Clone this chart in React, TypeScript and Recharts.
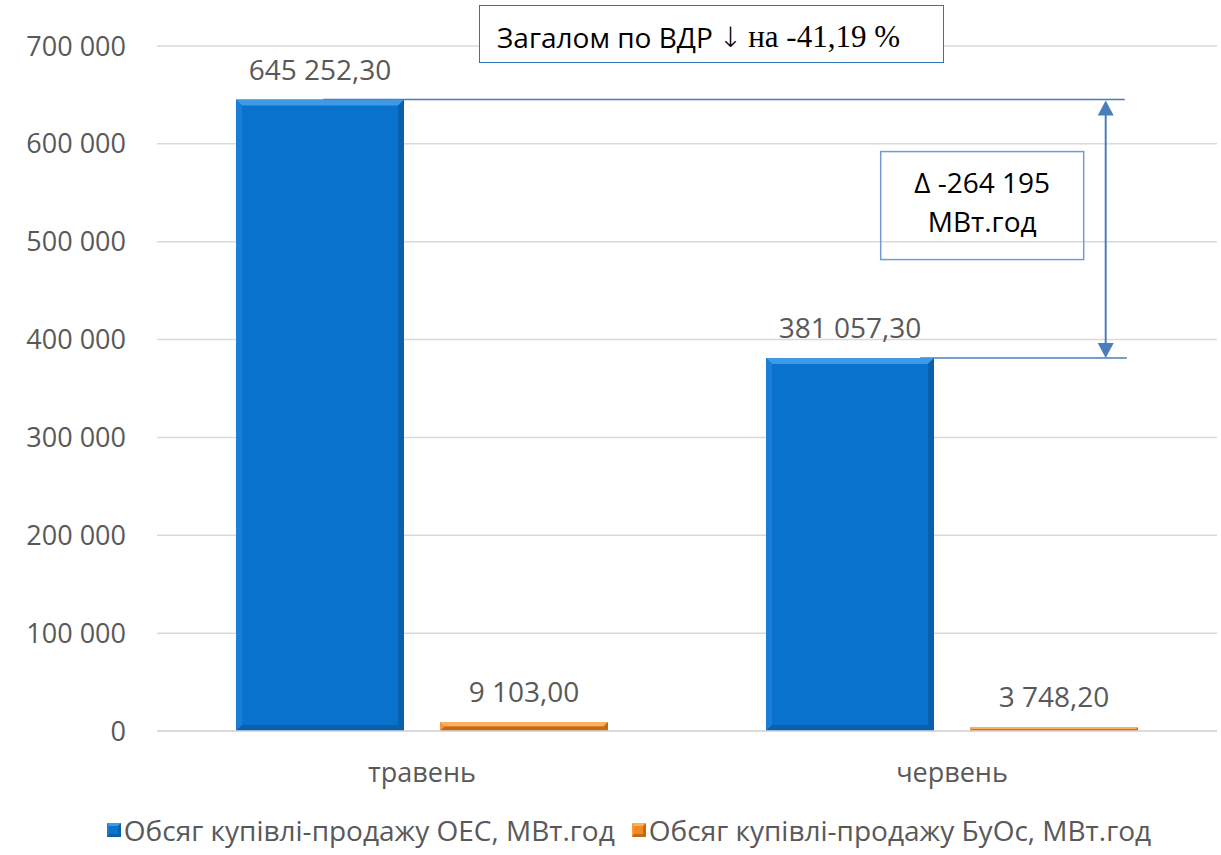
import React from 'react';
import {
  BarChart,
  Bar,
  XAxis,
  YAxis,
  CartesianGrid,
  Legend,
  LabelList,
  ReferenceArea
} from 'recharts';

// months (categories)
const months = ['травень', 'червень'];
// volumes, MWh
const oesVolume = [645252.3, 381057.3];
const buosVolume = [9103.0, 3748.2];
const yTicks = [0, 100000, 200000, 300000, 400000, 500000, 600000, 700000];

const seriesNames = [
  'Обсяг купівлі-продажу ОЕС, МВт.год',
  'Обсяг купівлі-продажу БуОс, МВт.год'
];

const FONT = '"Open Sans", "Noto Sans", sans-serif';
const GREY = '#595959';
const LINE_BLUE = '#4a7ebb';

const palette = {
  blue: { fill: '#0872cc', light: '#3f9ae6', side: '#1a7ed6', dark: '#0b60ad' },
  orange: { fill: '#f08a24', light: '#f9b25c', side: '#f39a3a', dark: '#c46a14' }
};

const chartData = months.map((m, i) => ({
  month: m,
  oes: oesVolume[i],
  buos: buosVolume[i]
}));

const groupThousands = (s: string) => s.replace(/\B(?=(\d{3})+(?!\d))/g, ' ');
const fmtTick = (v: number) => groupThousands(String(Math.round(v)));
const fmtValue = (v: number) => {
  const [int, dec] = v.toFixed(2).split('.');
  return `${groupThousands(int)},${dec}`;
};

const deltaOes = oesVolume[0] - oesVolume[1];
const totalMay = oesVolume[0] + buosVolume[0];
const totalJune = oesVolume[1] + buosVolume[1];
const pctChange = ((totalJune - totalMay) / totalMay) * 100;

const bevelShape = (c: typeof palette.blue) => (props: any) => {
  const { x, y, width, height } = props;
  if (!height || height <= 0) return <g />;
  const b = Math.min(6, height / 2, width / 2);
  const r = x + width;
  const btm = y + height;
  return (
    <g>
      <rect x={x} y={y} width={width} height={height} fill={c.fill} />
      <polygon points={`${x},${y} ${r},${y} ${r - b},${y + b} ${x + b},${y + b}`} fill={c.light} />
      <polygon points={`${x},${y} ${x + b},${y + b} ${x + b},${btm - b} ${x},${btm}`} fill={c.side} />
      <polygon points={`${r},${y} ${r},${btm} ${r - b},${btm - b} ${r - b},${y + b}`} fill={c.dark} />
      <polygon points={`${x},${btm} ${r},${btm} ${r - b},${btm - b} ${x + b},${btm - b}`} fill={c.dark} />
    </g>
  );
};

// draws the guide lines, double arrow and delta box between the two OES values
const DeltaAnnotation = (props: any) => {
  const { x, y, width, height } = props;
  const top = y;
  const bottom = y + height;
  const ax = x + width * 0.895;
  const head = 15;
  const half = 8;
  const boxW = 203;
  const boxH = 108;
  const bx = ax - 225;
  const by = top + 52;
  return (
    <g>
      <line x1={x + width * 0.157} y1={top} x2={x + width * 0.913} y2={top} stroke={LINE_BLUE} strokeWidth={1.5} />
      <line x1={x + width * 0.72} y1={bottom} x2={x + width * 0.915} y2={bottom} stroke={LINE_BLUE} strokeWidth={1.5} />
      <line x1={ax} y1={top + head} x2={ax} y2={bottom - head} stroke={LINE_BLUE} strokeWidth={2} />
      <polygon points={`${ax},${top + 1} ${ax - half},${top + head + 1} ${ax + half},${top + head + 1}`} fill={LINE_BLUE} />
      <polygon points={`${ax},${bottom} ${ax - half},${bottom - head} ${ax + half},${bottom - head}`} fill={LINE_BLUE} />
      <rect x={bx} y={by} width={boxW} height={boxH} fill="none" stroke="#6f9bd8" strokeWidth={1.5} />
      <text x={bx + boxW / 2} y={by + 41} textAnchor="middle" fontFamily={FONT} fontSize={28} fill="#000">
        {`Δ -${groupThousands(String(Math.round(deltaOes)))}`}
      </text>
      <text x={bx + boxW / 2} y={by + 80} textAnchor="middle" fontFamily={FONT} fontSize={28} fill="#000">
        МВт.год
      </text>
    </g>
  );
};

const LegendContent = () => {
  const icons = [palette.blue, palette.orange];
  return (
    <div style={{ display: 'flex', justifyContent: 'center', alignItems: 'center', height: 30, paddingLeft: 37, fontFamily: FONT, fontSize: 28, color: GREY, whiteSpace: 'nowrap' }}>
      {seriesNames.map((name, i) => (
        <div key={name} style={{ display: 'flex', alignItems: 'center', marginRight: i === 0 ? 17 : 0 }}>
          <span
            style={{
              display: 'inline-block',
              width: 14,
              height: 14,
              marginRight: 3,
              boxSizing: 'border-box',
              borderTop: `3px solid ${icons[i].light}`,
              borderLeft: `2px solid ${icons[i].side}`,
              borderRight: `3px solid ${icons[i].dark}`,
              borderBottom: `3px solid ${icons[i].dark}`,
              background: icons[i].fill
            }}
          />
          <span>{name}</span>
        </div>
      ))}
    </div>
  );
};

export default function App() {
  return (
    <div style={{ position: 'absolute', left: 0, top: 0, width: 1221, height: 855, background: '#fff' }}>
      <BarChart
        width={1221}
        height={855}
        data={chartData}
        margin={{ top: 46, right: 4, left: 0, bottom: 10 }}
        barCategoryGap={79}
        barGap={36}
      >
        <CartesianGrid vertical={false} stroke="#d9d9d9" strokeWidth={1.5} />
        <XAxis
          dataKey="month"
          height={84}
          tickLine={false}
          axisLine={{ stroke: '#d9d9d9', strokeWidth: 1.5 }}
          tickMargin={26}
          tick={{ fontFamily: FONT, fontSize: 27, fill: GREY }}
        />
        <YAxis
          width={157}
          domain={[0, 700000]}
          ticks={yTicks}
          tickFormatter={fmtTick}
          axisLine={false}
          tickLine={false}
          tickMargin={25}
          tick={{ fontFamily: FONT, fontSize: 27, fill: GREY }}
        />
        <Legend verticalAlign="bottom" wrapperStyle={{ left: 0, width: 1221 }} content={<LegendContent />} />
        <ReferenceArea
          y1={oesVolume[1]}
          y2={oesVolume[0]}
          ifOverflow="visible"
          shape={(p: any) => <DeltaAnnotation {...p} />}
        />
        <Bar dataKey="oes" name={seriesNames[0]} fill={palette.blue.fill} shape={bevelShape(palette.blue)} isAnimationActive={false}>
          <LabelList dataKey="oes" position="top" offset={20} formatter={(v: any) => fmtValue(Number(v))} style={{ fontFamily: FONT, fontSize: 28, fill: GREY }} />
        </Bar>
        <Bar dataKey="buos" name={seriesNames[1]} fill={palette.orange.fill} shape={bevelShape(palette.orange)} isAnimationActive={false}>
          <LabelList dataKey="buos" position="top" offset={20} formatter={(v: any) => fmtValue(Number(v))} style={{ fontFamily: FONT, fontSize: 28, fill: GREY }} />
        </Bar>
      </BarChart>
      <div
        style={{
          position: 'absolute',
          left: 479,
          top: 5,
          width: 465,
          height: 58,
          border: '1.5px solid #2e75b6',
          background: '#fff',
          display: 'flex',
          alignItems: 'center',
          paddingLeft: 17,
          paddingTop: 6,
          boxSizing: 'border-box',
          color: '#000',
          whiteSpace: 'nowrap'
        }}
      >
        <span style={{ fontFamily: FONT, fontSize: 28 }}>Загалом по ВДР</span>
        <span style={{ fontFamily: '"DejaVu Sans", sans-serif', fontSize: 28, fontWeight: 200, margin: '0 6px' }}>↓</span>
        <span style={{ fontFamily: '"Liberation Serif", serif', fontSize: 31 }}>{`на ${pctChange.toFixed(2).replace('.', ',')} %`}</span>
      </div>
    </div>
  );
}
